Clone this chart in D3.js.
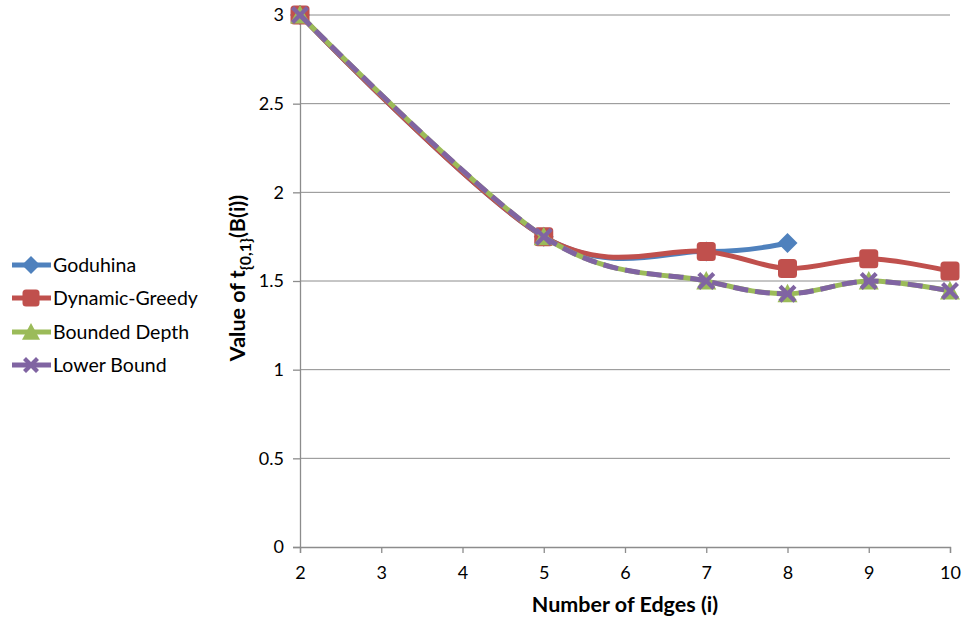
<!DOCTYPE html>
<html>
<head>
<meta charset="utf-8">
<script src="https://cdn.jsdelivr.net/npm/d3@7"></script>
<style>
  body { margin: 0; background: #fff; }
  text { font-family: Lato, "Open Sans", sans-serif; }
</style>
</head>
<body>
<svg id="chart" width="965" height="622"></svg>
<script>
// Number of edges for each observation
const edges = [2, 5, 7, 8, 9, 10];
const xTicks = [2, 3, 4, 5, 6, 7, 8, 9, 10];
const yTicks = [0, 0.5, 1, 1.5, 2, 2.5, 3];

const goduhina      = [3, 1.75, 1.667, 1.714, null, null];
const dynamicGreedy = [3, 1.75, 1.667, 1.571, 1.625, 1.556];
const boundedDepth  = [3, 1.75, 1.5, 1.4286, 1.5, 1.444];
const lowerBound    = [3, 1.75, 1.5, 1.4286, 1.5, 1.444];

const seriesNames  = ["Goduhina", "Dynamic-Greedy", "Bounded Depth", "Lower Bound"];
const seriesValues = [goduhina, dynamicGreedy, boundedDepth, lowerBound];
const colors  = ["#4F81BD", "#C0504D", "#9BBB59", "#8064A2"];
const markers = ["diamond", "square", "triangle", "cross"];

const svg = d3.select("#chart");
const plotLeft = 300, plotRight = 950, plotTop = 15, plotBottom = 547;

const x = d3.scaleLinear().domain([2, 10]).range([plotLeft, plotRight]);
const y = d3.scaleLinear().domain([0, 3]).range([plotBottom, plotTop]);

// horizontal gridlines
svg.append("g").selectAll("line").data(yTicks.filter(d => d > 0)).join("line")
  .attr("x1", plotLeft).attr("x2", plotRight)
  .attr("y1", d => y(d)).attr("y2", d => y(d))
  .attr("stroke", "#8c8c8c").attr("stroke-width", 1);

// y axis
const yAxis = svg.append("g").attr("transform", `translate(${plotLeft},0)`)
  .call(d3.axisLeft(y).tickValues(yTicks).tickSize(7).tickPadding(9).tickFormat(d3.format("")));
// x axis
const xAxis = svg.append("g").attr("transform", `translate(0,${plotBottom})`)
  .call(d3.axisBottom(x).tickValues(xTicks).tickSize(6).tickPadding(13));
[yAxis, xAxis].forEach(a => {
  a.select(".domain").attr("stroke", "#8c8c8c").attr("stroke-width", 1.3);
  a.selectAll(".tick line").attr("stroke", "#8c8c8c").attr("stroke-width", 1.3);
  a.selectAll(".tick text").attr("font-size", 18).attr("fill", "#000")
    .attr("font-family", "Lato, 'Open Sans', sans-serif");
});

// axis titles
svg.append("text").attr("x", 625).attr("y", 612).attr("text-anchor", "middle")
  .attr("font-size", 21.5).attr("font-weight", "bold").text("Number of Edges (i)");

const yt = svg.append("text")
  .attr("transform", `translate(245,278) rotate(-90)`)
  .attr("text-anchor", "middle").attr("font-size", 21.5).attr("font-weight", "bold");
yt.append("tspan").text("Value of t");
yt.append("tspan").attr("font-size", 16).attr("dy", 6).text("{0,1}");
yt.append("tspan").attr("dy", -6).text("(B(i))");

// marker shapes
function markerPath(type, s) {
  const h = s / 2;
  if (type === "diamond") return `M0,${-h}L${h},0L0,${h}L${-h},0Z`;
  if (type === "triangle") return `M0,${-h}L${h},${h * 0.85}L${-h},${h * 0.85}Z`;
  if (type === "cross") {
    const w = 3;
    return `M${-h},${-h+w}L${-h+w},${-h}L0,${-w}L${h-w},${-h}L${h},${-h+w}L${w},0L${h},${h-w}L${h-w},${h}L0,${w}L${-h+w},${h}L${-h},${h-w}L${-w},0Z`;
  }
  return null;
}
function drawMarker(g, type, color, cx, cy, s) {
  if (type === "square") {
    g.append("rect").attr("x", cx - s / 2).attr("y", cy - s / 2).attr("width", s).attr("height", s)
      .attr("rx", 3.5).attr("fill", color);
  } else {
    g.append("path").attr("d", markerPath(type, s)).attr("transform", `translate(${cx},${cy})`)
      .attr("fill", color);
  }
}

const line = d3.line()
  .defined(d => d[1] != null)
  .x(d => x(d[0])).y(d => y(d[1]))
  .curve(d3.curveCardinal.tension(0));

const sizes = [20, 19, 20, 18];
seriesValues.forEach((vals, i) => {
  const pts = edges.map((e, j) => [e, vals[j]]);
  const g = svg.append("g");
  g.append("path").datum(pts).attr("d", line).attr("fill", "none")
    .attr("stroke", colors[i]).attr("stroke-width", 5)
    .attr("stroke-linejoin", "round")
    .attr("stroke-dasharray", i === 3 ? "15,7" : null);
  pts.filter(d => d[1] != null).forEach(d => drawMarker(g, markers[i], colors[i], x(d[0]), y(d[1]), sizes[i]));
});

// legend
const legendY = [265, 298, 332, 365];
seriesNames.forEach((name, i) => {
  const g = svg.append("g");
  g.append("line").attr("x1", 12).attr("x2", 51).attr("y1", legendY[i]).attr("y2", legendY[i])
    .attr("stroke", colors[i]).attr("stroke-width", 5);
  drawMarker(g, markers[i], colors[i], 31, legendY[i], sizes[i] - 2);
  g.append("text").attr("x", 53).attr("y", legendY[i] + 7).attr("font-size", 19.5).text(name);
});
</script>
</body>
</html>
